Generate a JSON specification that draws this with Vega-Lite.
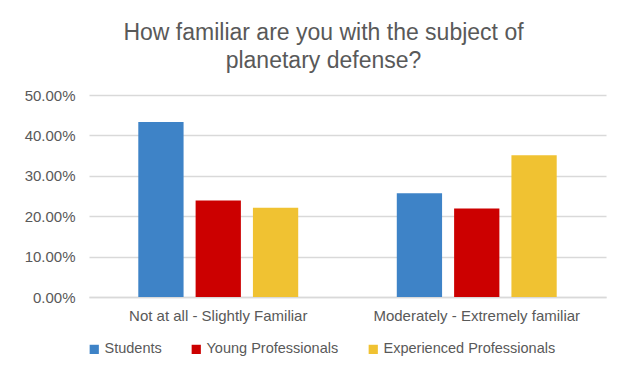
{
  "$schema": "https://vega.github.io/schema/vega-lite/v6.json",
  "autosize": "none",
  "width": 517,
  "height": 202,
  "padding": {"left": 89, "top": 95, "right": 17, "bottom": 71},
  "background": "white",
  "title": {
    "text": ["How familiar are you with the subject of", "planetary defense?"],
    "font": "Liberation Sans",
    "fontSize": 23,
    "fontWeight": "normal",
    "color": "#595959",
    "anchor": "middle",
    "dx": -24,
    "offset": 15,
    "lineHeight": 28
  },
  "data": {
    "values": [
      {"category": "Not at all - Slightly Familiar", "group": "Students", "value": 0.433},
      {"category": "Not at all - Slightly Familiar", "group": "Young Professionals", "value": 0.239},
      {"category": "Not at all - Slightly Familiar", "group": "Experienced Professionals", "value": 0.221},
      {"category": "Moderately - Extremely familiar", "group": "Students", "value": 0.257},
      {"category": "Moderately - Extremely familiar", "group": "Young Professionals", "value": 0.219},
      {"category": "Moderately - Extremely familiar", "group": "Experienced Professionals", "value": 0.351}
    ]
  },
  "mark": {"type": "bar"},
  "encoding": {
    "x": {
      "field": "category",
      "type": "nominal",
      "sort": null,
      "scale": {"paddingInner": 0, "paddingOuter": 0},
      "axis": {
        "title": null,
        "labelAngle": 0,
        "labelLimit": 0,
        "labelFont": "Liberation Sans",
        "labelFontSize": 15,
        "labelColor": "#595959",
        "labelPadding": 11,
        "ticks": false,
        "domainColor": "#d9d9d9",
        "domainWidth": 1.5
      }
    },
    "xOffset": {
      "field": "group",
      "type": "nominal",
      "sort": ["Students", "Young Professionals", "Experienced Professionals"],
      "scale": {"paddingInner": 0.21, "paddingOuter": 0.86}
    },
    "y": {
      "field": "value",
      "type": "quantitative",
      "scale": {"domain": [0, 0.5]},
      "axis": {
        "title": null,
        "format": ".2%",
        "values": [0, 0.1, 0.2, 0.3, 0.4, 0.5],
        "labelFont": "Liberation Sans",
        "labelFontSize": 15,
        "labelColor": "#595959",
        "labelPadding": 14,
        "ticks": false,
        "domain": false,
        "gridColor": "#d9d9d9",
        "gridWidth": 1.5
      }
    },
    "color": {
      "field": "group",
      "type": "nominal",
      "sort": ["Students", "Young Professionals", "Experienced Professionals"],
      "scale": {
        "domain": ["Students", "Young Professionals", "Experienced Professionals"],
        "range": ["#3e83c7", "#cc0000", "#f0c232"]
      },
      "legend": {
        "title": null,
        "orient": "none",
        "direction": "horizontal",
        "legendX": -2,
        "legendY": 247,
        "symbolType": "square",
        "symbolSize": 85,
        "symbolStrokeWidth": 0,
        "labelFont": "Liberation Sans",
        "labelFontSize": 14.5,
        "labelColor": "#595959",
        "labelOffset": 3,
        "labelLimit": 0,
        "columnPadding": 27,
        "padding": 0
      }
    }
  },
  "config": {
    "view": {"stroke": null}
  }
}
